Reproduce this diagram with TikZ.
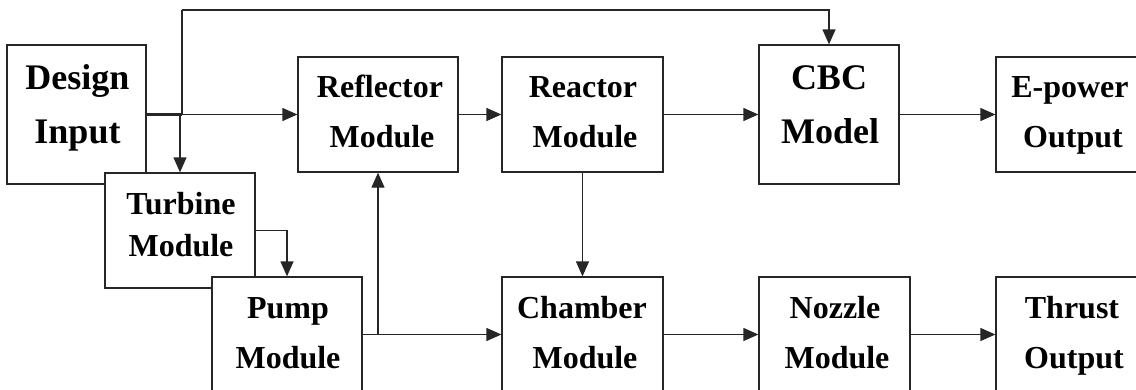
\documentclass[tikz,border=0pt]{standalone}
\usepackage{fontspec}
\setmainfont{Liberation Serif}
\usetikzlibrary{arrows.meta}
\begin{document}
\begin{tikzpicture}[x=1pt,y=-1pt,
  line width=1.3pt,
  box/.style={draw=black!85, fill=white, line width=1.3pt, rectangle, inner sep=0pt},
  lbl/.style={anchor=base, inner sep=0pt, font=\fontsize{32}{32}\selectfont\bfseries},
  biglbl/.style={anchor=base, inner sep=0pt, font=\fontsize{36}{36}\selectfont\bfseries},
  conn/.style={draw=black!85, line width=1.3pt},
  arr/.style={conn, -{Triangle[length=15pt,width=13pt]}}
]
\useasboundingbox (0,0) rectangle (1136,389);
\clip (0,0) rectangle (1136,389);
\fill[white] (0,0) rectangle (1136,389);

% boxes
\node[box, minimum width=139pt, minimum height=139pt] (design) at (76.5,114.5) {};
\node[box, minimum width=150pt, minimum height=115pt] (turbine) at (180,230.5) {};
\node[box, minimum width=150pt, minimum height=115pt] (pump) at (287,334.5) {};
\node[box, minimum width=160pt, minimum height=115pt] (refl) at (378,114.5) {};
\node[box, minimum width=161pt, minimum height=115pt] (reactor) at (582.5,114.5) {};
\node[box, minimum width=161pt, minimum height=115pt] (chamber) at (582.5,334.5) {};
\node[box, minimum width=140pt, minimum height=139pt] (cbc) at (829,114.5) {};
\node[box, minimum width=151pt, minimum height=115pt] (nozzle) at (834.5,334.5) {};
\node[box, minimum width=154pt, minimum height=115pt] (epower) at (1073,114.5) {};
\node[box, minimum width=154pt, minimum height=115pt] (thrust) at (1073,334.5) {};

% labels
\node[biglbl] (design1) at (77.5,89) {Design};
\node[biglbl] (design2) at (77.5,143) {Input};
\node[lbl] (turbine1) at (181,214) {Turbine};
\node[lbl] (turbine2) at (181,256) {Module};
\node[lbl] (pump1) at (288,318) {Pump};
\node[lbl] (pump2) at (288,368) {Module};
\node[lbl] (refl1) at (380,97) {Reflector};
\node[lbl] (refl2) at (382,147) {Module};
\node[lbl] (reactor1) at (583,97) {Reactor};
\node[lbl] (reactor2) at (585,147) {Module};
\node[lbl] (chamber1) at (582,318) {Chamber};
\node[lbl] (chamber2) at (585,368) {Module};
\node[biglbl] (cbc1) at (829,89) {CBC};
\node[biglbl] (cbc2) at (830,143) {Model};
\node[lbl] (nozzle1) at (835,318) {Nozzle};
\node[lbl] (nozzle2) at (837,368) {Module};
\node[lbl] (epower1) at (1070,97) {E-power};
\node[lbl] (epower2) at (1073,147) {Output};
\node[lbl] (thrust1) at (1072,318) {Thrust};
\node[lbl] (thrust2) at (1074,368) {Output};

% junction points
\coordinate (jup) at (182,114.5);
\coordinate (jdown) at (180,114.5);
\coordinate (topleft) at (182,10);
\coordinate (jpump) at (378,334.5);

% connectors
\draw[conn, line width=2.2pt] (design.east) -- (jup);
\draw[arr] (jup) -- (refl.west);
\draw[conn] (jup) -- (topleft);
\draw[arr] (topleft) -| (cbc.north);
\draw[arr] (jdown) -- (turbine.north);
\draw[arr] (turbine.east) -| (pump.north);
\draw[arr] (pump.east) -- (chamber.west);
\draw[arr] (jpump) -- (refl.south);
\draw[arr] (refl.east) -- (reactor.west);
\draw[arr] (reactor.east) -- (cbc.west);
\draw[arr] (reactor.south) -- (chamber.north);
\draw[arr] (cbc.east) -- (epower.west);
\draw[arr] (chamber.east) -- (nozzle.west);
\draw[arr] (nozzle.east) -- (thrust.west);
\end{tikzpicture}
\end{document}
